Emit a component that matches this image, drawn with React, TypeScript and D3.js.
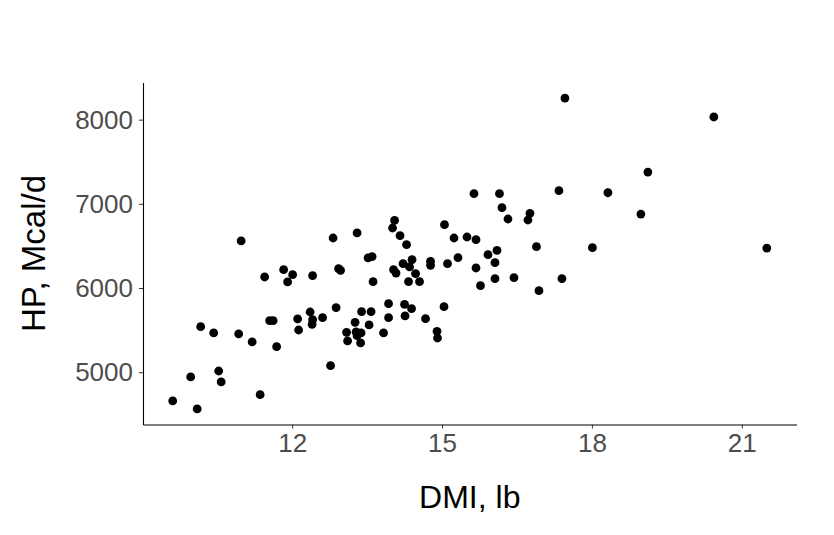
import { axisBottom, axisLeft, extent, format, scaleLinear, select } from "d3"
import { useEffect, useRef } from "react"

const dmi = [
    10.98, 11.45, 11.83, 12.01, 11.91, 10.17, 10.43, 10.93, 11.20, 11.55, 11.62, 11.69, 12.11, 12.13,
    9.97, 10.53, 10.58, 11.36, 9.61, 10.10,
    14.05, 14.01, 15.05, 12.82, 13.30, 14.16, 14.29, 13.52, 13.60, 14.22, 14.40, 14.35, 14.77, 14.77,
    15.11, 12.41, 12.93, 12.97, 14.03, 14.08, 13.62, 14.33, 14.47, 14.55, 12.88, 13.93, 14.25, 14.39,
    15.04, 12.36, 12.61, 12.41, 12.40, 13.39, 13.58, 13.93, 14.26, 14.67, 13.26, 13.54, 13.09, 13.28,
    13.38, 13.30, 13.11, 13.37, 13.83, 14.90, 14.91, 12.77,
    15.64, 16.15, 17.34, 18.32, 16.20, 16.76, 16.72, 16.32, 15.24, 15.50, 15.68, 16.10, 15.92, 16.89,
    18.01, 15.32, 16.06, 15.68, 16.06, 16.44, 15.77, 16.94, 17.40,
    17.46, 20.44, 19.12, 18.98, 21.50,
]

const hp = [
    6559, 6131, 6218, 6158, 6072, 5541, 5466, 5454, 5359, 5612, 5612, 5303, 5632, 5501,
    4943, 5014, 4884, 4733, 4658, 4563,
    6803, 6713, 6752, 6594, 6654, 6622, 6515, 6357, 6372, 6289, 6336, 6250, 6316, 6269,
    6289, 6146, 6230, 6210, 6218, 6178, 6075, 6075, 6170, 6075, 5766, 5814, 5805, 5754,
    5778, 5715, 5647, 5624, 5568, 5719, 5719, 5647, 5668, 5636, 5592, 5561, 5473, 5478,
    5466, 5434, 5371, 5347, 5466, 5485, 5406, 5077,
    7121, 7121, 7156, 7132, 6954, 6887, 6808, 6820, 6594, 6606, 6574, 6447, 6396, 6491,
    6479, 6360, 6301, 6238, 6111, 6123, 6028, 5968, 6111,
    8257, 8032, 7378, 6879, 6475,
]

const xTicks = [12, 15, 18, 21]
const yTicks = [5000, 6000, 7000, 8000]

const expand = ([a, b]) => [a - (b - a) * 0.05, b + (b - a) * 0.05]

const ScatterPlot = () => {
    const width = 834
    const height = 535
    const margin = { top: 82.5, right: 37.5, bottom: 110.5, left: 143 }

    const ref = useRef()

    useEffect(() => {
        const svg = select(ref.current)
        svg.selectAll('*').remove()

        const x = scaleLinear()
            .domain(expand(extent(dmi)))
            .range([margin.left, width - margin.right])

        const y = scaleLinear()
            .domain(expand(extent(hp)))
            .range([height - margin.bottom, margin.top])

        const font = "'Liberation Sans', Arial, sans-serif"

        const xAxis = svg.append('g')
            .attr('transform', `translate(0,${height - margin.bottom})`)
            .call(axisBottom(x).tickValues(xTicks).tickSize(4).tickPadding(5).tickSizeOuter(0))
        xAxis.select('.domain').attr('stroke', '#000').attr('stroke-width', 1.1)
        xAxis.selectAll('.tick line').attr('stroke', '#333')
        xAxis.selectAll('.tick text')
            .attr('fill', '#4d4d4d')
            .attr('font-size', 26)
            .attr('font-family', font)

        const yAxis = svg.append('g')
            .attr('transform', `translate(${margin.left},0)`)
            .call(axisLeft(y).tickValues(yTicks).tickFormat(format('d')).tickSize(4).tickPadding(6).tickSizeOuter(0))
        yAxis.select('.domain').attr('stroke', '#000').attr('stroke-width', 1.1)
        yAxis.selectAll('.tick line').attr('stroke', '#333')
        yAxis.selectAll('.tick text')
            .attr('fill', '#4d4d4d')
            .attr('font-size', 26)
            .attr('font-family', font)

        svg.append('g')
            .selectAll('circle')
            .data(dmi.map((d, i) => [d, hp[i]]))
            .join('circle')
            .attr('cx', ([a, _]) => x(a))
            .attr('cy', ([_, b]) => y(b))
            .attr('r', 4.4)
            .attr('fill', '#000')

        svg.append('text')
            .attr('x', (margin.left + width - margin.right) / 2)
            .attr('y', 508)
            .attr('text-anchor', 'middle')
            .attr('font-size', 32)
            .attr('font-family', font)
            .attr('fill', '#000')
            .text('DMI, lb')

        svg.append('text')
            .attr('transform', `translate(45,${(margin.top + height - margin.bottom) / 2}) rotate(-90)`)
            .attr('text-anchor', 'middle')
            .attr('font-size', 33)
            .attr('font-family', font)
            .attr('fill', '#000')
            .text('HP, Mcal/d')
    }, [])

    return <svg ref={ref} width={width} height={height} style={{ display: 'block', background: '#fff' }}></svg>
}

export default function App() {
    return (
        <div style={{ margin: -8 }}>
            <ScatterPlot />
        </div>
    )
}
